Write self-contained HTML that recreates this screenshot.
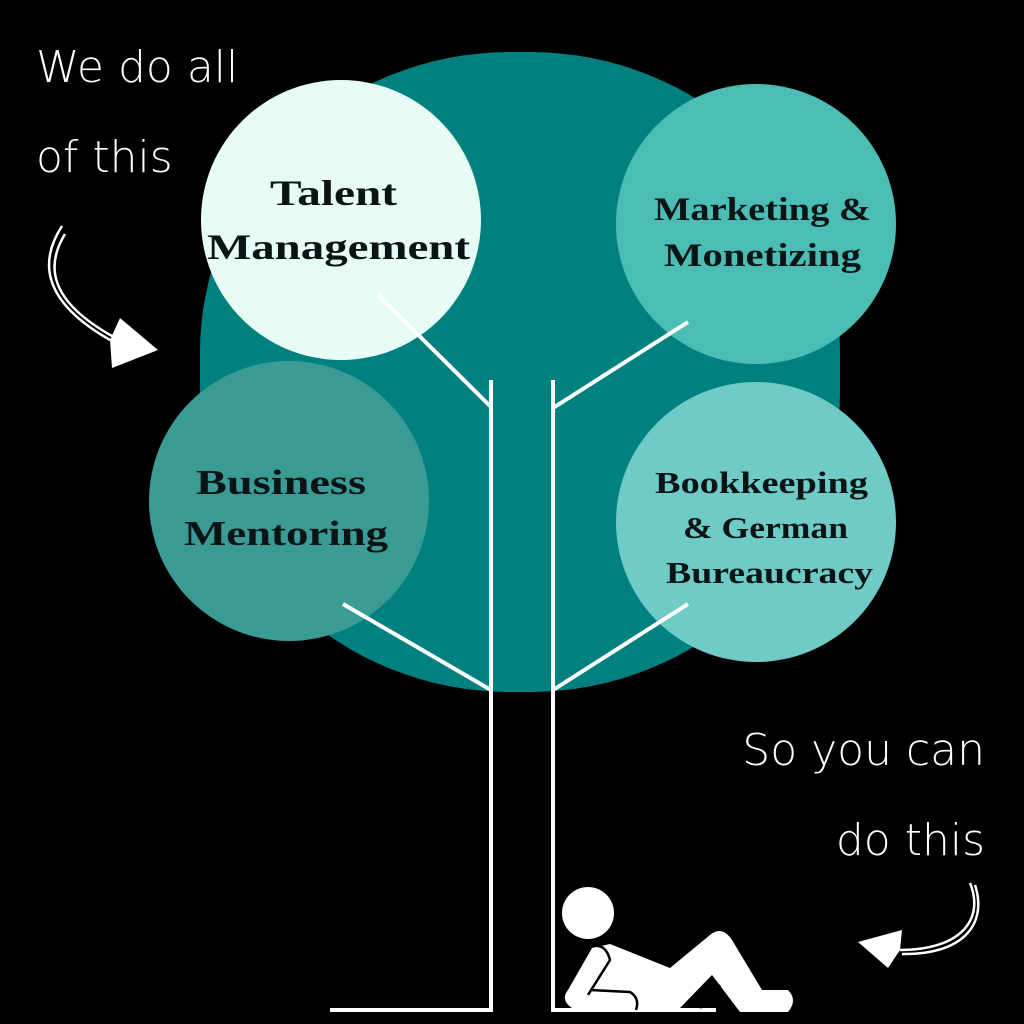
<!DOCTYPE html>
<html><head><style>
html,body{margin:0;padding:0;background:#000;width:1024px;height:1024px;overflow:hidden}
svg{display:block}
.h{font-family:"DejaVu Sans","Liberation Sans",sans-serif;font-weight:200;fill:#fff;font-size:44px}
.t{font-family:"Liberation Serif",serif;font-weight:bold;fill:#0a1414}
</style></head><body>
<svg width="1024" height="1024" viewBox="0 0 1024 1024">
<rect width="1024" height="1024" fill="#000"/>
<rect x="200" y="52" width="640" height="640" rx="310" ry="300" fill="#018080"/>
<circle cx="341" cy="220" r="140" fill="#e8fcf6"/>
<circle cx="756" cy="224" r="140" fill="#4bbdb5"/>
<circle cx="289" cy="501" r="140" fill="#3a9b95"/>
<circle cx="756" cy="522" r="140" fill="#6ecbc6"/>
<g class="t">
<text x="270" y="205" font-size="36" textLength="127" lengthAdjust="spacingAndGlyphs">Talent</text>
<text x="207" y="259" font-size="36" textLength="263" lengthAdjust="spacingAndGlyphs">Management</text>
<text x="654" y="220" font-size="33" textLength="217" lengthAdjust="spacingAndGlyphs">Marketing &amp;</text>
<text x="664" y="266" font-size="33" textLength="197" lengthAdjust="spacingAndGlyphs">Monetizing</text>
<text x="196" y="494" font-size="35" textLength="170" lengthAdjust="spacingAndGlyphs">Business</text>
<text x="184" y="545" font-size="35" textLength="204" lengthAdjust="spacingAndGlyphs">Mentoring</text>
<text x="655" y="493" font-size="31" textLength="213" lengthAdjust="spacingAndGlyphs">Bookkeeping</text>
<text x="683" y="538" font-size="31" textLength="165" lengthAdjust="spacingAndGlyphs">&amp; German</text>
<text x="666" y="583" font-size="31" textLength="207" lengthAdjust="spacingAndGlyphs">Bureaucracy</text>
</g>
<g stroke="#fff" stroke-width="4" fill="none">
<line x1="491" y1="380" x2="491" y2="1012"/>
<line x1="553" y1="380" x2="553" y2="1012"/>
<line x1="330" y1="1010" x2="493" y2="1010"/>
<line x1="551" y1="1010" x2="716" y2="1010"/>
<line x1="378" y1="295" x2="491" y2="407"/>
<line x1="688" y1="322" x2="553" y2="408"/>
<line x1="343" y1="604" x2="491" y2="690"/>
<line x1="688" y1="604" x2="553" y2="690"/>
</g>
<text class="h" x="36" y="82">We do all</text>
<text class="h" x="36" y="172">of this</text>
<text class="h" x="985" y="765" text-anchor="end">So you can</text>
<text class="h" x="985" y="855" text-anchor="end">do this</text>
<g stroke="#fff" stroke-width="2.5" fill="none">
<path d="M62 226 C40 260 40 300 110 340"/>
<path d="M65 234 C46 265 48 300 112 336"/>
<path d="M970 883 C985 920 960 950 900 950"/>
<path d="M975 885 C988 925 962 955 902 954"/>
</g>
<polygon points="110,340 120,318 158,350 112,368" fill="#fff"/>
<polygon points="900,950 902,930 858,942 888,968" fill="#fff"/>
<g fill="#fff">
<circle cx="588" cy="913" r="26"/>
<path d="M592 948 L610 944 L670 968 L710 935 Q722 925 732 940 L762 990 L788 990 Q798 1000 788 1012 L740 1012 L712 975 L680 1008 L600 1008 L572 1008 Q560 1000 568 990 Z"/>
</g>
<g stroke="#000" stroke-width="2.5" fill="none">
<path d="M586 948 Q605 940 610 960 L588 995"/>
<path d="M590 990 L630 992 Q640 998 636 1010"/>
<path d="M700 1008 L720 985"/>
</g>
</svg>
</body></html>
